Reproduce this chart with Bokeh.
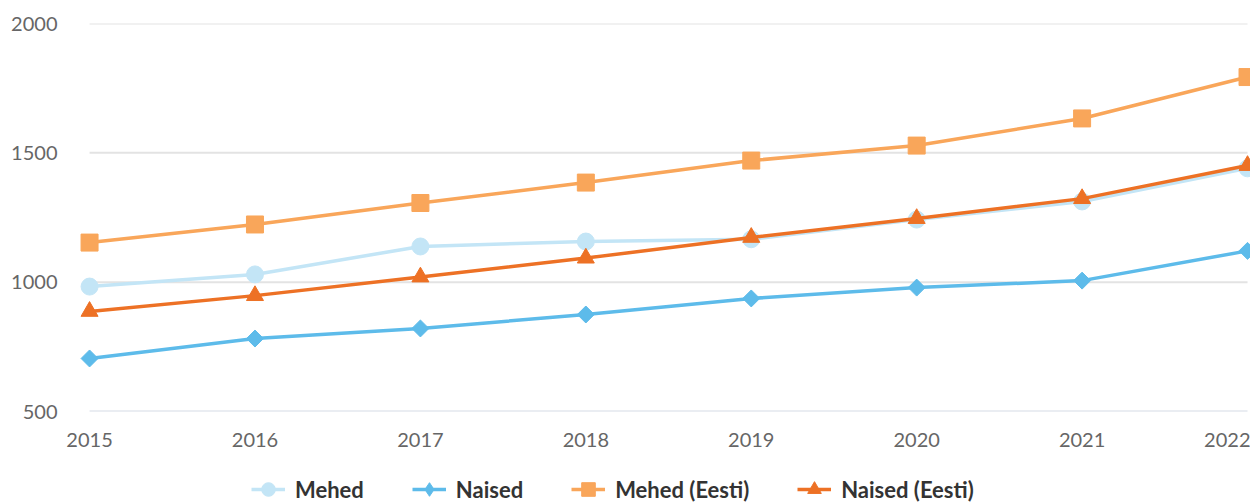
import math
from bokeh.plotting import figure
from bokeh.models import Range1d, FixedTicker, Legend, LegendItem
from bokeh.layouts import column
from bokeh.embed import file_html
from bokeh.resources import INLINE

years = [2015, 2016, 2017, 2018, 2019, 2020, 2021, 2022]
mehed = [983, 1030, 1138, 1157, 1166, 1242, 1312, 1440]
naised = [705, 782, 821, 875, 937, 979, 1006, 1121]
mehed_eesti = [1153, 1223, 1306, 1385, 1470, 1528, 1633, 1793]
naised_eesti = [887, 948, 1020, 1093, 1173, 1246, 1323, 1451]
y_ticks = [500, 1000, 1500, 2000]
grid_values = [1000, 1500, 2000]
labels = ["Mehed", "Naised", "Mehed (Eesti)", "Naised (Eesti)"]

FONT = "Lato"
colors = ["#c3e5f6", "#5dbbea", "#f9a65a", "#ed7125"]
series = [mehed, naised, mehed_eesti, naised_eesti]
markers = [("circle", 17, 0), ("square", 12, math.pi / 4), ("square", 17, 0), ("triangle", 17, 0)]
legend_markers = ["circle", "diamond", "square", "triangle"]
LW = 3.5

p = figure(width=1250, height=457, output_backend="svg", toolbar_location=None,
           x_range=Range1d(2014.915, 2022.018), y_range=Range1d(500, 2000),
           min_border_left=75, min_border_right=0, min_border_top=23, min_border_bottom=46)
p.outline_line_color = None
p.xgrid.visible = False
p.ygrid.visible = False

# gridlines and base line spanning the data extent
p.segment(x0=[years[0]] * len(grid_values), x1=[years[-1]] * len(grid_values),
          y0=grid_values, y1=grid_values, line_color="#e3e3e3", line_width=2)
p.segment(x0=[years[0]], x1=[years[-1]], y0=[y_ticks[0]], y1=[y_ticks[0]],
          line_color="#d5dbe6", line_width=2)

for data, col, (mk, sz, ang) in zip(series, colors, markers):
    p.line(years, data, line_color=col, line_width=LW)
    p.scatter(years, data, marker=mk, size=sz, angle=ang, fill_color=col, line_color=col)

for ax in (p.xaxis, p.yaxis):
    ax.axis_line_color = None
    ax.major_tick_line_color = None
    ax.minor_tick_line_color = None
    ax.major_tick_out = 0
    ax.major_tick_in = 0
    ax.major_label_text_font = FONT
    ax.major_label_text_font_size = "20px"
    ax.major_label_text_color = "#666666"

p.xaxis.ticker = FixedTicker(ticks=years)
p.yaxis.ticker = FixedTicker(ticks=y_ticks)
p.xaxis.major_label_standoff = 21
p.yaxis.major_label_standoff = 18

# legend strip below the chart
lg = figure(width=1250, height=45, output_backend="svg", toolbar_location=None,
            x_range=Range1d(0, 1), y_range=Range1d(0, 1),
            min_border_left=0, min_border_right=0, min_border_top=0, min_border_bottom=0)
lg.axis.visible = False
lg.grid.visible = False
lg.outline_line_color = None
items = []
for lab, data, col, mk in zip(labels, series, colors, legend_markers):
    rl = lg.line(years, data, line_color=col, line_width=LW)
    rm = lg.scatter(years, data, marker=mk, size=15, fill_color=col, line_color=col)
    items.append(LegendItem(label=lab, renderers=[rl, rm]))

legend = Legend(items=items, orientation="horizontal", location=(176, -4))
legend.label_text_font = FONT
legend.label_text_font_size = "22px"
legend.label_text_font_style = "bold"
legend.label_text_color = "#333333"
legend.glyph_width = 34
legend.glyph_height = 34
legend.label_standoff = 10
legend.spacing = 48
legend.border_line_color = None
legend.background_fill_alpha = 0
legend.padding = 0
legend.margin = 0
lg.add_layout(legend, "center")

layout = column(p, lg, spacing=0)
open("out.html", "w").write(file_html(layout, INLINE))
